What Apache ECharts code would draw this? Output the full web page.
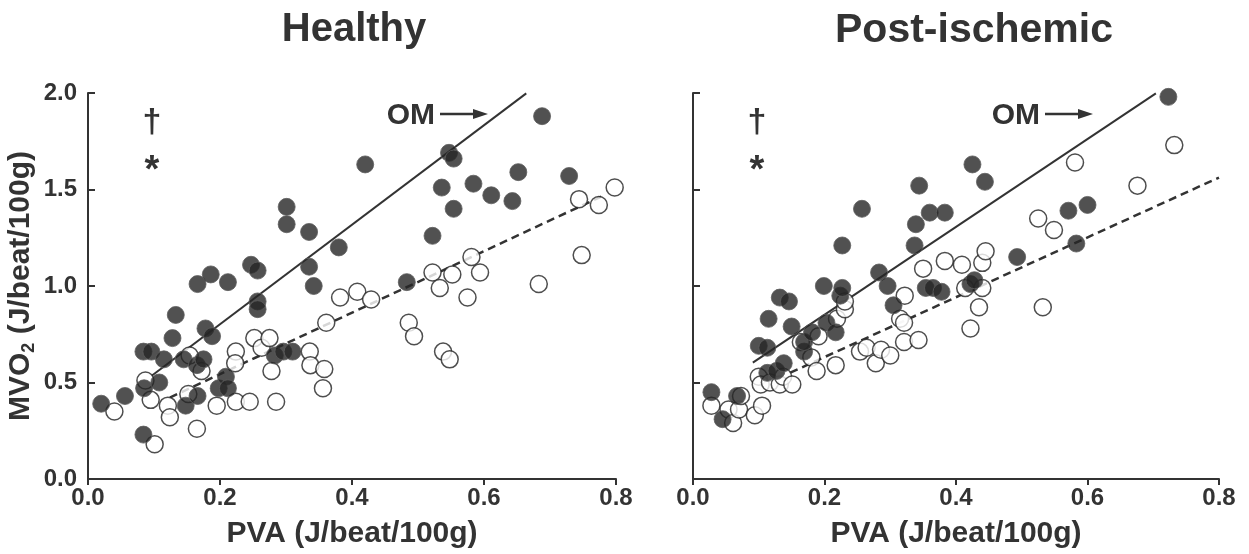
<!DOCTYPE html>
<html>
<head>
<meta charset="utf-8">
<title>MVO2 vs PVA</title>
<script src="https://cdn.jsdelivr.net/npm/echarts@6/dist/echarts.min.js"></script>
<style>
  html, body { margin: 0; padding: 0; background: #fff; }
  #chart { width: 1249px; height: 554px; }
</style>
</head>
<body>
<div id="chart"></div>
<script>
// values, [PVA, MVO2]
const healthyFilled = [
  [0.020, 0.39], [0.056, 0.43], [0.084, 0.23], [0.085, 0.47], [0.084, 0.66], [0.096, 0.66],
  [0.108, 0.50], [0.115, 0.62], [0.128, 0.73], [0.133, 0.85], [0.145, 0.62], [0.148, 0.38],
  [0.166, 0.43], [0.166, 1.01], [0.165, 0.59], [0.175, 0.62], [0.178, 0.78], [0.188, 0.74],
  [0.186, 1.06], [0.198, 0.47], [0.209, 0.53], [0.212, 0.47], [0.212, 1.02], [0.247, 1.11],
  [0.257, 1.08], [0.257, 0.92], [0.257, 0.88], [0.283, 0.64], [0.296, 0.66], [0.310, 0.66],
  [0.301, 1.41], [0.301, 1.32], [0.335, 1.28], [0.335, 1.10], [0.342, 1.00], [0.380, 1.20],
  [0.420, 1.63], [0.483, 1.02], [0.522, 1.26], [0.536, 1.51], [0.547, 1.69], [0.554, 1.66],
  [0.554, 1.40], [0.584, 1.53], [0.611, 1.47], [0.643, 1.44], [0.652, 1.59], [0.688, 1.88],
  [0.729, 1.57]
]
const healthyOpen = [
  [0.040, 0.35], [0.087, 0.51], [0.095, 0.41], [0.101, 0.18], [0.121, 0.38], [0.124, 0.32],
  [0.152, 0.44], [0.154, 0.64], [0.172, 0.56], [0.165, 0.26], [0.195, 0.38], [0.224, 0.66],
  [0.223, 0.60], [0.224, 0.40], [0.245, 0.40], [0.252, 0.73], [0.263, 0.68], [0.275, 0.73],
  [0.278, 0.56], [0.285, 0.40], [0.336, 0.66], [0.337, 0.59], [0.358, 0.57], [0.356, 0.47],
  [0.361, 0.81], [0.382, 0.94], [0.408, 0.97], [0.429, 0.93], [0.486, 0.81], [0.494, 0.74],
  [0.522, 1.07], [0.533, 0.99], [0.538, 0.66], [0.548, 0.62], [0.552, 1.06], [0.575, 0.94],
  [0.581, 1.15], [0.594, 1.07], [0.683, 1.01], [0.744, 1.45], [0.748, 1.16], [0.774, 1.42],
  [0.798, 1.51]
]
const postFilled = [
  [0.028, 0.45], [0.045, 0.31], [0.067, 0.43], [0.100, 0.69], [0.113, 0.68], [0.115, 0.83],
  [0.113, 0.55], [0.127, 0.56], [0.138, 0.60], [0.132, 0.94], [0.146, 0.92], [0.150, 0.79],
  [0.169, 0.66], [0.169, 0.71], [0.181, 0.76], [0.199, 1.00], [0.203, 0.81], [0.217, 0.76],
  [0.224, 0.95], [0.227, 0.99], [0.227, 1.21], [0.257, 1.40], [0.283, 1.07], [0.296, 1.00],
  [0.305, 0.90], [0.337, 1.21], [0.339, 1.32], [0.344, 1.52], [0.354, 0.99], [0.360, 1.38],
  [0.365, 0.99], [0.378, 0.97], [0.383, 1.38], [0.425, 1.63], [0.444, 1.54], [0.422, 1.01],
  [0.428, 1.03], [0.493, 1.15], [0.571, 1.39], [0.600, 1.42], [0.583, 1.22], [0.723, 1.98]
]
const postOpen = [
  [0.028, 0.38], [0.054, 0.36], [0.061, 0.29], [0.070, 0.36], [0.073, 0.43], [0.094, 0.33],
  [0.105, 0.38], [0.100, 0.53], [0.103, 0.49], [0.117, 0.50], [0.132, 0.49], [0.137, 0.53],
  [0.151, 0.49], [0.164, 0.71], [0.180, 0.63], [0.188, 0.56], [0.191, 0.74], [0.217, 0.59],
  [0.219, 0.83], [0.231, 0.88], [0.231, 0.92], [0.254, 0.66], [0.264, 0.68], [0.278, 0.60],
  [0.286, 0.67], [0.300, 0.64], [0.315, 0.83], [0.321, 0.81], [0.322, 0.95], [0.321, 0.71],
  [0.343, 0.72], [0.350, 1.09], [0.383, 1.13], [0.409, 1.11], [0.440, 1.12], [0.445, 1.18],
  [0.414, 0.99], [0.440, 0.99], [0.435, 0.89], [0.422, 0.78], [0.525, 1.35], [0.549, 1.29],
  [0.532, 0.89], [0.581, 1.64], [0.676, 1.52], [0.732, 1.73]
]

// fit lines, end points as drawn
const healthyFitOM = [[0.096, 0.534], [0.664, 1.998]]
const healthyFitCtrl = [[0.124, 0.422], [0.778, 1.464]]
const postFitOM = [[0.091, 0.603], [0.704, 1.998]]
const postFitCtrl = [[0.148, 0.551], [0.800, 1.562]]

const xTicks = [0, 0.2, 0.4, 0.6, 0.8]
const yTicks = [0, 0.5, 1.0, 1.5, 2.0]
const panelTitles = ['Healthy', 'Post-ischemic']

const ink = '#333'
const fontFamily = '"Liberation Sans", Arial, sans-serif'

const chart = echarts.init(document.getElementById('chart'), null, { renderer: 'canvas' })

function xAxisFor(gridIndex) {
  return {
    type: 'value',
    gridIndex: gridIndex,
    min: xTicks[0],
    max: xTicks[xTicks.length - 1],
    interval: xTicks[1] - xTicks[0],
    name: 'PVA (J/beat/100g)',
    nameLocation: 'middle',
    nameGap: 40,
    nameTextStyle: { color: ink, fontSize: 30, fontWeight: 'bold', fontFamily: fontFamily },
    axisLine: { lineStyle: { color: ink, width: 2 } },
    axisTick: { inside: false, length: 6, lineStyle: { color: ink, width: 2 } },
    axisLabel: {
      margin: 7, color: ink, fontSize: 24, fontWeight: 'bold', fontFamily: fontFamily,
      formatter: (v) => v.toFixed(1)
    },
    splitLine: { show: false }
  }
}

function yAxisFor(gridIndex, showLabels) {
  return {
    type: 'value',
    gridIndex: gridIndex,
    min: yTicks[0],
    max: yTicks[yTicks.length - 1],
    interval: yTicks[1] - yTicks[0],
    name: showLabels ? 'MVO{sub|2} (J/beat/100g)' : '',
    nameLocation: 'middle',
    nameGap: 50,
    nameTextStyle: {
      color: ink, fontSize: 30, fontWeight: 'bold', fontFamily: fontFamily, lineHeight: 34,
      rich: {
        sub: { color: ink, fontSize: 18, fontWeight: 'bold', fontFamily: fontFamily, lineHeight: 34, verticalAlign: 'bottom' }
      }
    },
    axisLine: { show: true, lineStyle: { color: ink, width: 2 } },
    axisTick: { show: true, inside: true, length: 7, lineStyle: { color: ink, width: 2 } },
    axisLabel: {
      show: showLabels, margin: 11, color: ink, fontSize: 24, fontWeight: 'bold', fontFamily: fontFamily,
      formatter: (v) => v.toFixed(1)
    },
    splitLine: { show: false }
  }
}

function dots(data, idx, filled) {
  return {
    type: 'scatter',
    xAxisIndex: idx,
    yAxisIndex: idx,
    data: data,
    symbol: 'circle',
    symbolSize: 17,
    z: filled ? 4 : 3,
    itemStyle: filled
      ? { color: '#262626', borderColor: '#5e5e5e', borderWidth: 1 }
      : { color: '#fff', borderColor: '#222', borderWidth: 1.5 },
    emphasis: { disabled: true }
  }
}

function fit(data, idx, dashed) {
  return {
    type: 'line',
    xAxisIndex: idx,
    yAxisIndex: idx,
    data: data,
    symbol: 'none',
    z: 2,
    lineStyle: dashed
      ? { color: ink, width: 2.5, type: [8, 5] }
      : { color: ink, width: 2 },
    emphasis: { disabled: true }
  }
}

// arrow + labels drawn on top of each panel
function annotations(x0) {
  const txt = (text, x, y, size, align) => ({
    type: 'text',
    x: x, y: y,
    style: {
      text: text, fill: ink, font: 'bold ' + size + 'px ' + fontFamily,
      align: align || 'center', verticalAlign: 'middle'
    }
  })
  return [
    txt('†', x0 + 64, 123, 34),
    txt('*', x0 + 64, 172, 38),
    txt('OM', x0 + 347, 116, 30, 'right'),
    {
      type: 'line',
      shape: { x1: x0 + 352, y1: 114, x2: x0 + 388, y2: 114 },
      style: { stroke: ink, lineWidth: 2.5 }
    },
    {
      type: 'polygon',
      shape: { points: [[x0 + 385, 109], [x0 + 400, 114], [x0 + 385, 119]] },
      style: { fill: ink }
    }
  ]
}

chart.setOption({
  animation: false,
  title: [
    { text: panelTitles[0], left: 349, top: 5, textAlign: 'center',
      textStyle: { color: ink, fontSize: 40, fontWeight: 'bold', fontFamily: fontFamily } },
    { text: panelTitles[1], left: 969, top: 5, textAlign: 'center',
      textStyle: { color: ink, fontSize: 41, fontWeight: 'bold', fontFamily: fontFamily } }
  ],
  grid: [
    { left: 88, top: 93, width: 528, height: 387 },
    { left: 693, top: 93, width: 526, height: 387 }
  ],
  xAxis: [xAxisFor(0), xAxisFor(1)],
  yAxis: [yAxisFor(0, true), yAxisFor(1, false)],
  series: [
    fit(healthyFitOM, 0, false),
    fit(healthyFitCtrl, 0, true),
    dots(healthyOpen, 0, false),
    dots(healthyFilled, 0, true),
    fit(postFitOM, 1, false),
    fit(postFitCtrl, 1, true),
    dots(postOpen, 1, false),
    dots(postFilled, 1, true)
  ],
  graphic: annotations(88).concat(annotations(693))
})
</script>
</body>
</html>
